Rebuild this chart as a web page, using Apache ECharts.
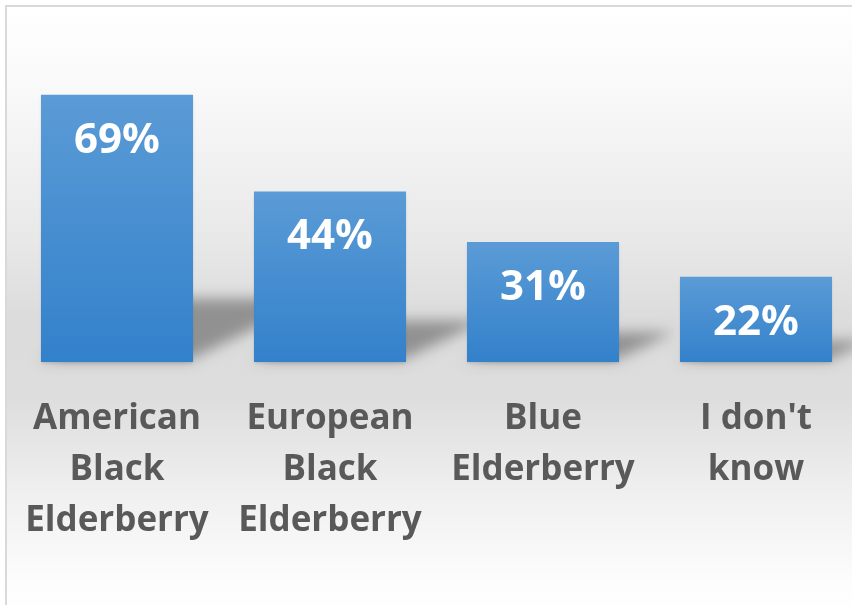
<!DOCTYPE html>
<html>
<head>
<meta charset="utf-8">
<script src="https://cdn.jsdelivr.net/npm/echarts@6/dist/echarts.min.js"></script>
<style>
html,body{margin:0;padding:0;background:#fff;}
#chart{width:852px;height:605px;}
</style>
</head>
<body>
<div id="chart"></div>
<script>
var categories = ['American\nBlack\nElderberry', 'European\nBlack\nElderberry', 'Blue\nElderberry', "I don't\nknow"];
var values = [69, 44, 31, 22];
var yMin = 0, yMax = 80;

var chart = echarts.init(document.getElementById('chart'), null, {renderer: 'canvas'});
var BAR_RATIO = 0.714;
var OFF = 3000;

var option = {
  animation: false,
  graphic: {
    z: -10,
    elements: [{
      type: 'rect',
      silent: true,
      shape: {x: 6, y: 6, width: 870, height: 620},
      style: {
        fill: new echarts.graphic.LinearGradient(0, 0, 0, 1, [
          {offset: 0, color: '#ffffff'},
          {offset: 0.15, color: '#f8f8f8'},
          {offset: 0.38, color: '#e8e8e8'},
          {offset: 0.5, color: '#dcdcdc'},
          {offset: 0.63, color: '#dddddd'},
          {offset: 0.78, color: '#efefef'},
          {offset: 0.93, color: '#fdfdfd'},
          {offset: 1, color: '#ffffff'}
        ]),
        stroke: '#d9d9d9',
        lineWidth: 2
      }
    }]
  },
  grid: {left: 10.5, top: 52, width: 852, bottom: 243, containLabel: false, outerBoundsMode: 'none'},
  xAxis: {
    type: 'category',
    data: categories,
    axisLine: {show: false},
    axisTick: {show: false},
    axisLabel: {
      interval: 0,
      margin: 32,
      color: '#595959',
      fontFamily: 'Open Sans',
      fontWeight: 'bold',
      fontSize: 35,
      lineHeight: 51
    }
  },
  yAxis: {
    type: 'value',
    min: yMin,
    max: yMax,
    show: false,
    splitLine: {show: false}
  },
  series: [
    {
      type: 'custom',
      z: 1,
      silent: true,
      clip: false,
      data: values.map(function (v, i) { return [i, v]; }),
      renderItem: function (params, api) {
        var top = api.coord([api.value(0), api.value(1)]);
        var base = api.coord([api.value(0), 0]);
        var w = api.size([1, 0])[0] * BAR_RATIO;
        var x1 = top[0] + w / 2;
        var h = (base[1] - top[1]) * 0.23;
        var dx = h * 2;
        var by = base[1] - 2;
        var pts = [[x1 - w, by], [x1 - 4, by], [x1 + dx, by - h], [x1 - w + dx, by - h]];
        return {
          type: 'polygon',
          shape: {points: pts.map(function (p) { return [p[0] - OFF, p[1]]; })},
          style: {
            fill: '#000',
            shadowBlur: 14,
            shadowOffsetX: OFF,
            shadowColor: 'rgba(0,0,0,0.34)'
          }
        };
      }
    },
    {
      type: 'bar',
      z: 3,
      data: values,
      barWidth: (BAR_RATIO * 100) + '%',
      itemStyle: {
        color: new echarts.graphic.LinearGradient(0, 0, 0, 1, [
          {offset: 0, color: '#5b9bd6'},
          {offset: 1, color: '#3381cb'}
        ]),
        shadowColor: 'rgba(0,0,0,0.12)',
        shadowBlur: 3,
        shadowOffsetY: 2
      },
      label: {
        show: true,
        position: 'insideTop',
        distance: 25,
        formatter: '{c}%',
        color: '#ffffff',
        fontFamily: 'Open Sans',
        fontWeight: 'bold',
        fontSize: 42
      }
    }
  ]
};
chart.setOption(option);
</script>
</body>
</html>
